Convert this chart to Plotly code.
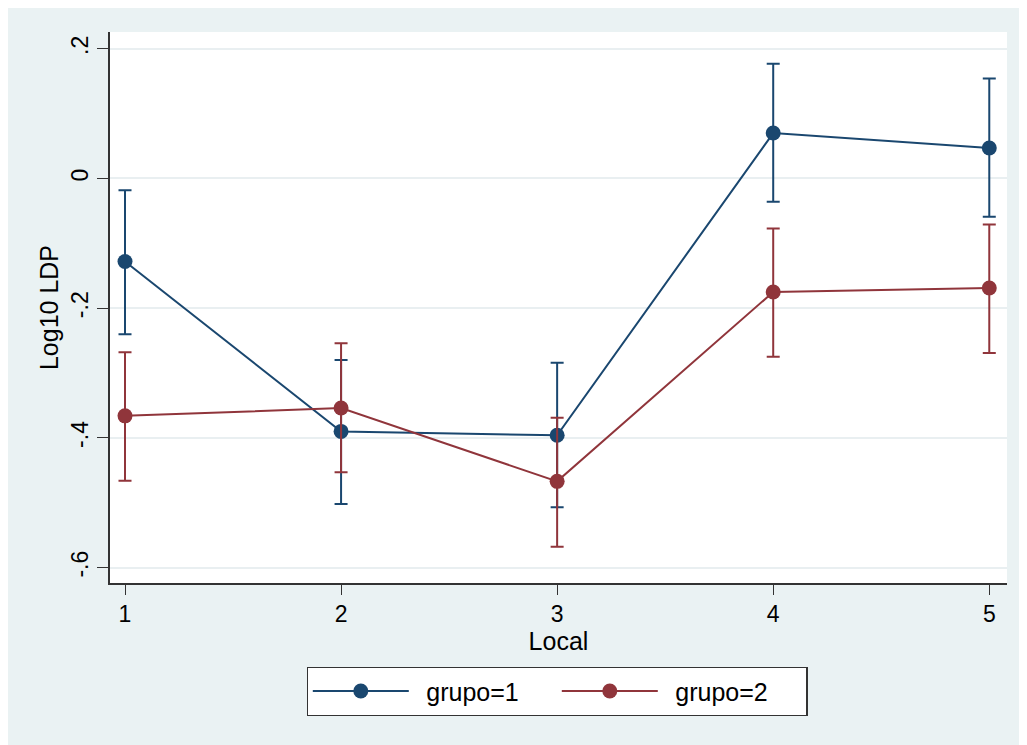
import plotly.graph_objects as go

local = [1, 2, 3, 4, 5]
tick_vals_y = [0.2, 0.0, -0.2, -0.4, -0.6]
tick_text_y = [".2", "0", "-.2", "-.4", "-.6"]

g1_mean = [-0.128, -0.390, -0.396, 0.070, 0.047]
g1_upper = [-0.018, -0.280, -0.284, 0.177, 0.154]
g1_lower = [-0.240, -0.502, -0.507, -0.036, -0.059]

g2_mean = [-0.366, -0.354, -0.467, -0.175, -0.169]
g2_upper = [-0.268, -0.254, -0.369, -0.077, -0.071]
g2_lower = [-0.466, -0.453, -0.568, -0.275, -0.269]

BLUE = "#1A476F"
RED = "#90353B"
BG = "#EAF2F3"
FONT = "Liberation Sans, Arial, Helvetica, sans-serif"

# the page body has an 8px margin, so the figure starts at (8, 8)
W, H = 1019, 737
ML, MR, MT, MB = 102, 20, 24, 162
PW, PH = W - ML - MR, H - MT - MB


def trace(name, mean, upper, lower, color):
    return go.Scatter(
        x=local, y=mean, name=name, mode="lines+markers",
        line=dict(color=color, width=2),
        marker=dict(color=color, size=15),
        error_y=dict(
            type="data", symmetric=False,
            array=[u - m for u, m in zip(upper, mean)],
            arrayminus=[m - l for m, l in zip(mean, lower)],
            color=color, thickness=2, width=6.5,
        ),
    )


fig = go.Figure()
fig.add_trace(trace("\u2002grupo=1", g1_mean, g1_upper, g1_lower, BLUE))
fig.add_trace(trace("\u2002grupo=2", g2_mean, g2_upper, g2_lower, RED))

fig.update_layout(
    width=W, height=H, autosize=False,
    margin=dict(l=ML, r=MR, t=MT, b=MB, pad=0),
    paper_bgcolor=BG, plot_bgcolor="white",
    font=dict(family=FONT, color="black", size=24),
    showlegend=True,
    legend=dict(
        orientation="h", x=(557 - 8 - ML) / PW, xanchor="center",
        y=-(659 - (H - MB)) / PH, yanchor="top",
        bgcolor="white", bordercolor="#333333", borderwidth=1.3,
        font=dict(size=25, family=FONT),
        itemwidth=96, entrywidth=138, entrywidthmode="pixels",
        itemclick=False,
    ),
    xaxis=dict(
        range=[0.9306, 5.082], tickvals=local, ticktext=[str(v) for v in local],
        showgrid=False, zeroline=False,
        showline=True, linecolor="#333333", linewidth=1.5,
        ticks="outside", ticklen=10, tickcolor="#333333", tickwidth=1.3,
        tickfont=dict(size=23),
        title=dict(text="Local", font=dict(size=25), standoff=5),
    ),
    yaxis=dict(
        range=[-0.6237, 0.2258], tickvals=tick_vals_y, ticktext=tick_text_y,
        tickangle=-90,
        showgrid=True, gridcolor="#E9EFF1", gridwidth=1.5, zeroline=False,
        showline=True, linecolor="#333333", linewidth=1.5,
        ticks="outside", ticklen=11, tickcolor="#333333", tickwidth=1.3,
        tickfont=dict(size=23),
        title=dict(text="Log10 LDP", font=dict(size=25), standoff=1),
    ),
)

fig.write_html("out.html")
